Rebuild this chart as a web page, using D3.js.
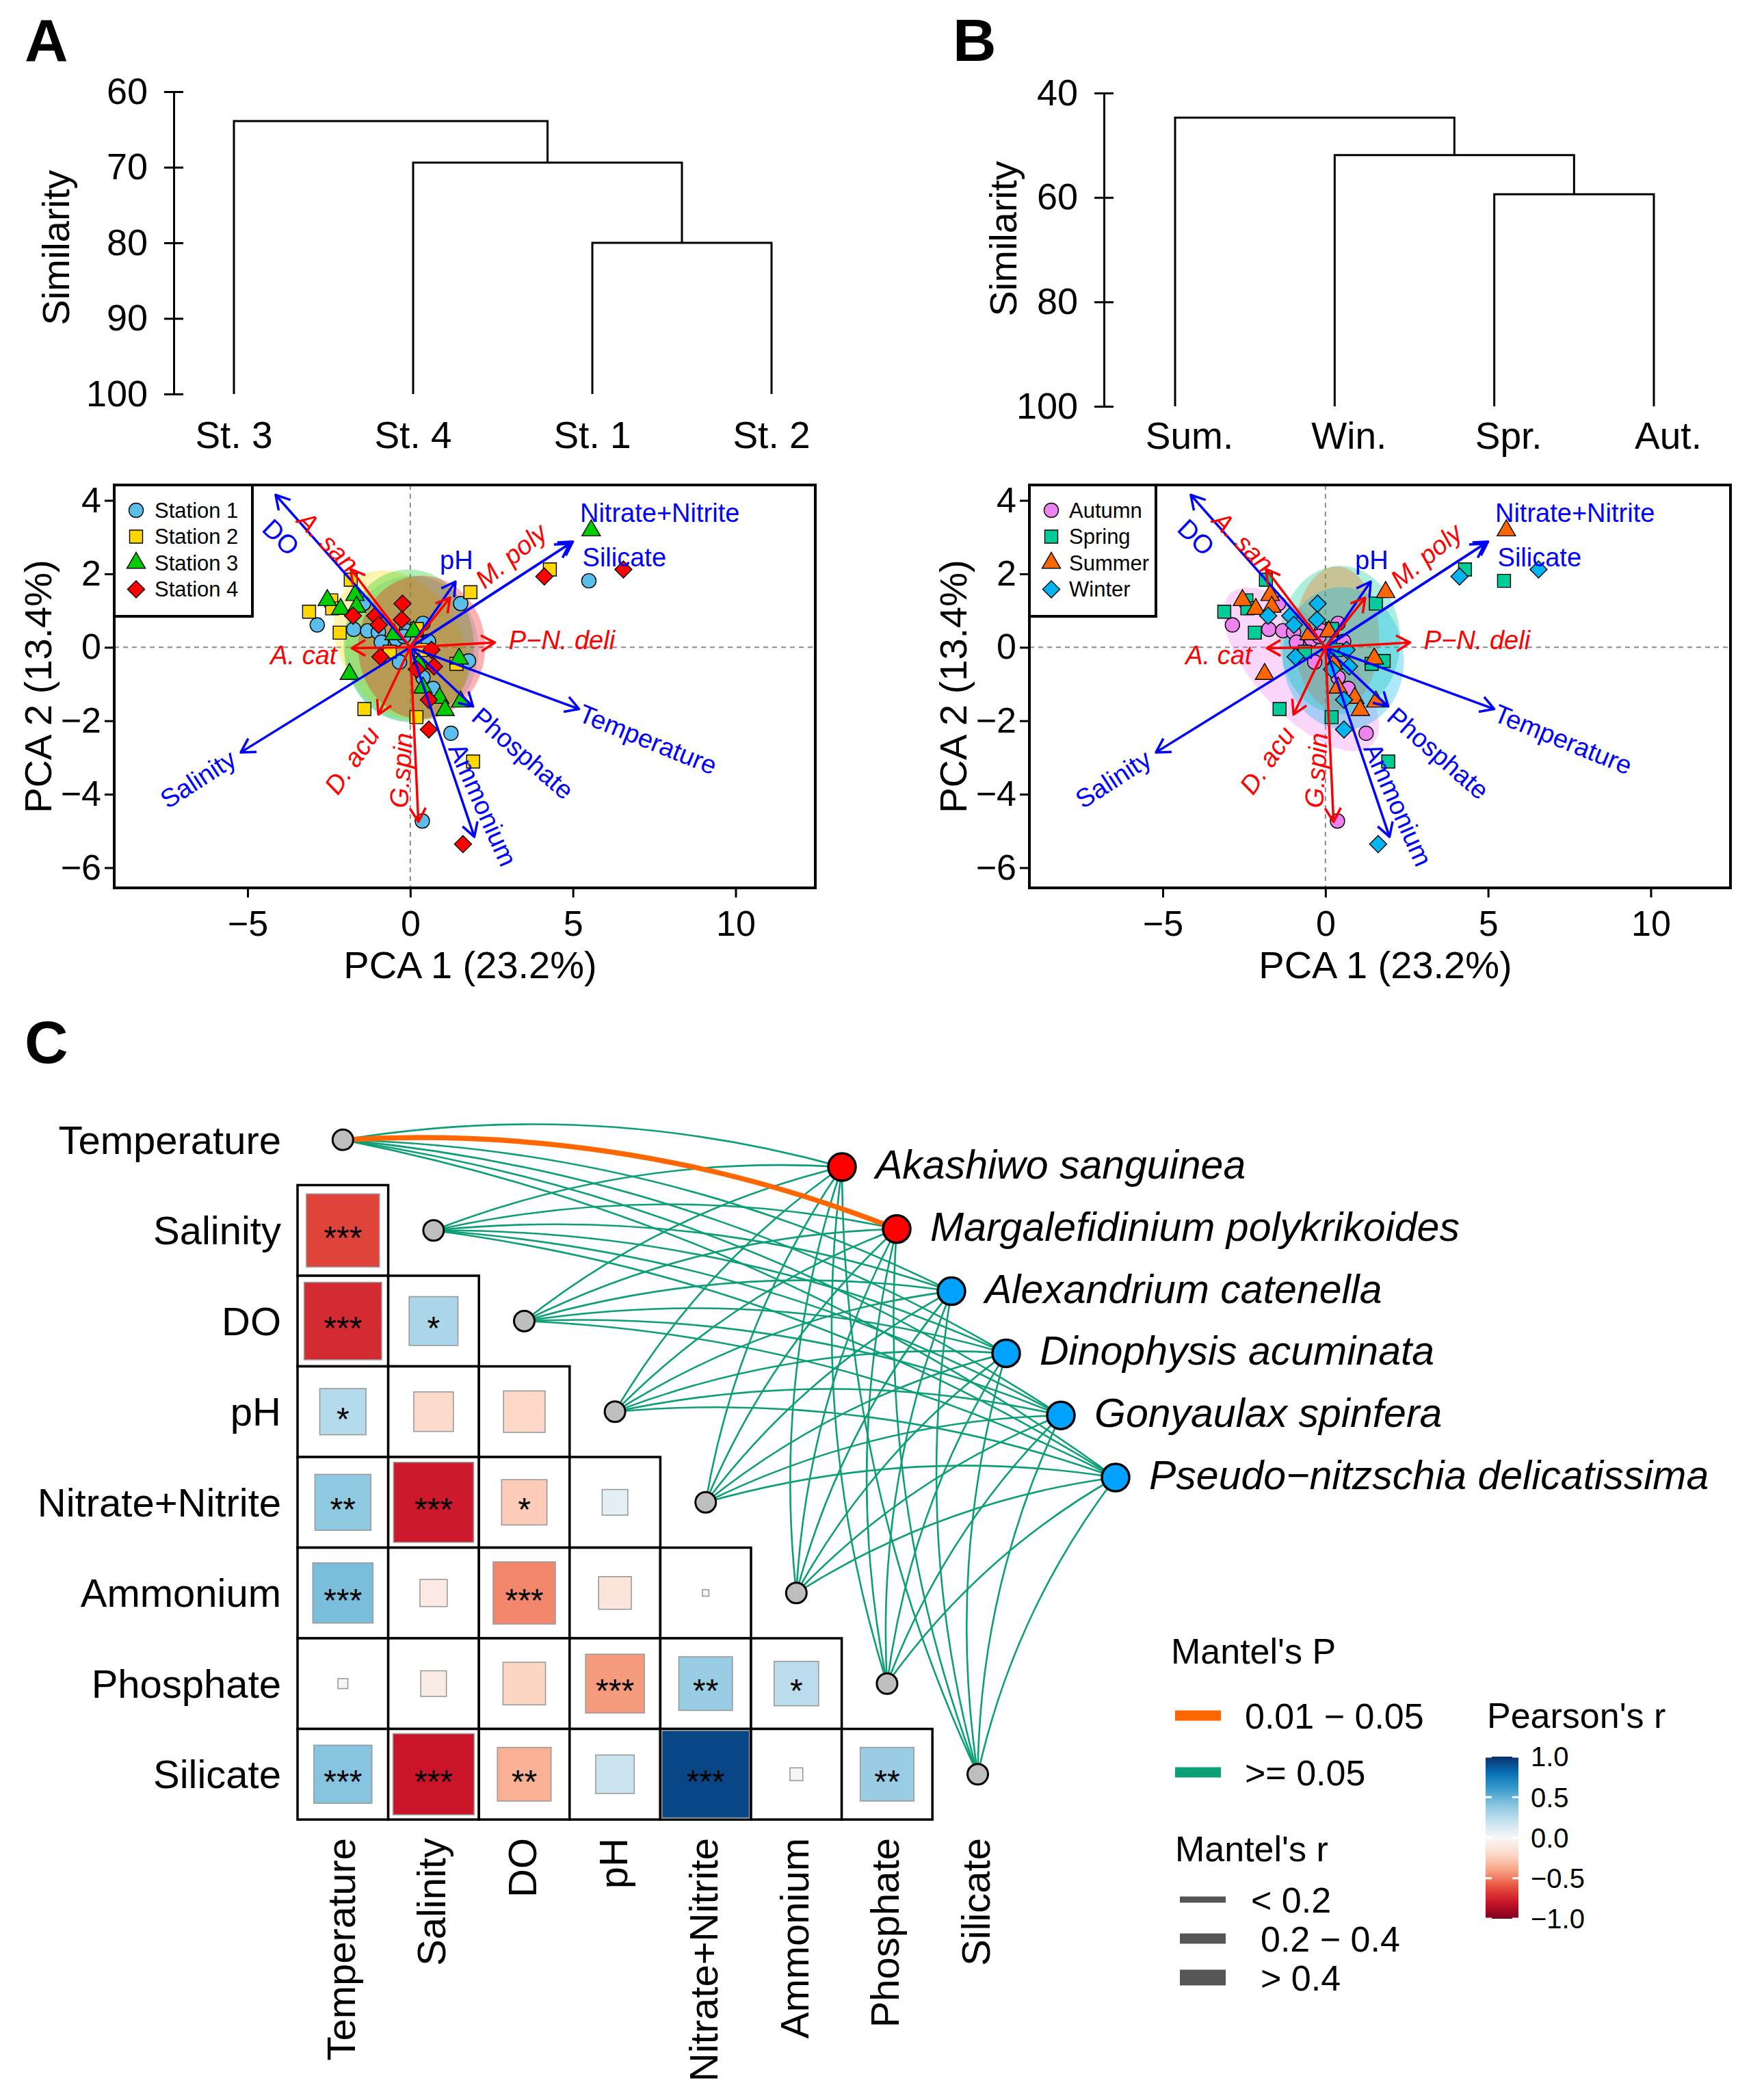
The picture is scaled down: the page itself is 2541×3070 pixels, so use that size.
<!DOCTYPE html>
<html>
<head>
<meta charset="utf-8">
<title>Dendrograms, PCA biplots and Mantel network</title>
<script src="https://cdnjs.cloudflare.com/ajax/libs/d3/7.8.5/d3.min.js"></script>
<style>
  body { margin: 0; background: #fff; }
  text { font-family: "Liberation Sans", Arial, sans-serif; }
</style>
</head>
<body>
<script>
// ---------- dendrograms ----------
const stationLeaves = ['St. 3', 'St. 4', 'St. 1', 'St. 2'];
const stationMergePairs = [['St. 1', 'St. 2'], ['St. 4', 0], ['St. 3', 1]];
const stationMergeHeights = [80.0, 69.4, 63.9];
const stationSimTicks = [60, 70, 80, 90, 100];

const seasonLeaves = ['Sum.', 'Win.', 'Spr.', 'Aut.'];
const seasonMergePairs = [['Spr.', 'Aut.'], ['Win.', 0], ['Sum.', 1]];
const seasonMergeHeights = [59.4, 51.9, 44.7];
const seasonSimTicks = [40, 60, 80, 100];

// ---------- PCA sample scores ----------
const stationNames = ['Station 1', 'Station 2', 'Station 3', 'Station 4'];
const seasonNames = ['Autumn', 'Spring', 'Summer', 'Winter'];

const samplePC1 = [
  5.49, -2.86, -1.44, -1.74, -1.31, -0.98, -0.89, -0.43, -0.12, 0.39, 0.56, 1.55, 1.79, -0.33, 0.39, 0.70, 1.25, 0.37, -0.20,
  4.29, -1.83, 1.85, -3.11, -2.43, -2.40, -2.17, -0.63, 1.42, -1.41, 0.19, 1.93, 0.33, 0.20,
  5.56, -2.55, -2.14, -1.70, -1.87, 0.10, 0.26, 1.50, 0.90, 1.07, 1.55, 0.39, -1.65, -0.50,
  4.12, 6.55, -0.24, -1.76, -1.08, -0.26, -0.92, 0.73, 0.57, 0.57, 1.62, 0.65, -0.97, 0.20
];
const samplePC2 = [
  1.81, 0.61, 1.19, 0.49, 0.45, 0.41, 0.14, 0.22, 0.45, 0.65, 0.16, 1.19, -0.37, -0.40, -0.82, -1.12, -2.34, -4.73, 0.30,
  2.12, 1.84, 1.50, 0.97, 1.28, 1.06, 0.40, -0.12, -0.45, -1.68, -1.90, -3.11, -0.07, 0.50,
  3.18, 1.28, 1.04, 1.42, -0.73, 0.43, -0.45, -0.31, -1.38, -1.71, -1.48, -1.10, 1.10, 0.35,
  1.93, 2.12, 1.19, 0.86, 0.86, 0.75, -0.26, -0.52, -1.43, -2.24, -5.36, -0.07, 0.61, -0.60
];
const sampleStation = [
  'Station 1', 'Station 1', 'Station 1', 'Station 1', 'Station 1', 'Station 1', 'Station 1', 'Station 1', 'Station 1', 'Station 1',
  'Station 1', 'Station 1', 'Station 1', 'Station 1', 'Station 1', 'Station 1', 'Station 1', 'Station 1', 'Station 1',
  'Station 2', 'Station 2', 'Station 2', 'Station 2', 'Station 2', 'Station 2', 'Station 2', 'Station 2', 'Station 2', 'Station 2',
  'Station 2', 'Station 2', 'Station 2', 'Station 2',
  'Station 3', 'Station 3', 'Station 3', 'Station 3', 'Station 3', 'Station 3', 'Station 3', 'Station 3', 'Station 3', 'Station 3',
  'Station 3', 'Station 3', 'Station 3', 'Station 3',
  'Station 4', 'Station 4', 'Station 4', 'Station 4', 'Station 4', 'Station 4', 'Station 4', 'Station 4', 'Station 4', 'Station 4',
  'Station 4', 'Station 4', 'Station 4', 'Station 4'
];
const sampleSeason = [
  'Spring', 'Autumn', 'Autumn', 'Autumn', 'Autumn', 'Autumn', 'Autumn', 'Autumn', 'Autumn', 'Autumn',
  'Autumn', 'Spring', 'Spring', 'Autumn', 'Autumn', 'Autumn', 'Autumn', 'Autumn', 'Autumn',
  'Spring', 'Spring', 'Summer', 'Spring', 'Spring', 'Spring', 'Spring', 'Spring', 'Spring', 'Spring',
  'Spring', 'Spring', 'Spring', 'Spring',
  'Summer', 'Summer', 'Summer', 'Summer', 'Summer', 'Summer', 'Summer', 'Summer', 'Summer', 'Summer',
  'Summer', 'Summer', 'Summer', 'Summer',
  'Winter', 'Winter', 'Winter', 'Winter', 'Winter', 'Winter', 'Winter', 'Winter', 'Winter', 'Winter',
  'Winter', 'Winter', 'Winter', 'Winter'
];

// 95% ellipses (centre, semi-axes, angle in data space)
const stationEllipseCX = [0.05, -0.30, -0.05, 0.35];
const stationEllipseCY = [-0.05, 0.05, 0.05, 0.00];
const stationEllipseA = [2.05, 2.30, 2.00, 1.95];
const stationEllipseB = [2.00, 1.75, 2.07, 1.95];
const stationEllipseAngle = [0, -45, 0, 0];

const seasonEllipseCX = [-0.75, 0.45, 0.35, 0.55];
const seasonEllipseCY = [-0.60, 0.20, 0.25, -0.30];
const seasonEllipseA = [3.00, 1.85, 1.30, 1.85];
const seasonEllipseB = [1.30, 2.02, 1.95, 1.95];
const seasonEllipseAngle = [-42, 0, 0, 20];

// ---------- biplot loadings ----------
const envArrowNames = ['DO', 'pH', 'Nitrate+Nitrite', 'Silicate', 'Temperature', 'Phosphate', 'Ammonium', 'Salinity'];
const envArrowPC1 = [-4.14, 1.39, 5.00, 4.90, 5.19, 1.93, 1.97, -5.21];
const envArrowPC2 = [4.15, 1.79, 2.88, 2.82, -1.68, -1.61, -5.16, -2.86];
const envLabelPC1 = [-3.97, 1.42, 7.67, 6.58, 7.31, 3.47, 2.24, -6.53];
const envLabelPC2 = [3.00, 2.38, 3.66, 2.45, -2.50, -2.88, -4.28, -3.58];
const envLabelAngle = [44, 0, 0, 0, 22, 41, 66, -33];

const sppArrowNames = ['A. san', 'M. poly', 'P\u2212N. deli', 'A. cat', 'D. acu', 'G.spin'];
const sppArrowPC1 = [-1.83, 1.22, 2.60, -1.80, -0.98, 0.25];
const sppArrowPC2 = [2.13, 1.35, 0.13, -0.02, -1.83, -4.75];
const sppLabelPC1 = [-2.52, 3.09, 4.66, -3.28, -1.80, -0.29];
const sppLabelPC2 = [2.88, 2.50, 0.20, -0.21, -3.07, -3.35];
const sppLabelAngle = [45, -40, 0, 0, -55, -86];

// ---------- Mantel / Pearson ----------
const envVars = ['Temperature', 'Salinity', 'DO', 'pH', 'Nitrate+Nitrite', 'Ammonium', 'Phosphate', 'Silicate'];
const speciesNames = ['Akashiwo sanguinea', 'Margalefidinium polykrikoides', 'Alexandrium catenella',
  'Dinophysis acuminata', 'Gonyaulax spinfera', 'Pseudo\u2212nitzschia delicatissima'];
const speciesGroup = [0, 0, 1, 1, 1, 1];

const mantelPBins = ['0.01 \u2212 0.05', '>= 0.05'];
const mantelRBins = ['< 0.2', '0.2 \u2212 0.4', '> 0.4'];
// rows = species, columns = envVars, values = index into the bins above
const mantelPClass = [
  [1, 1, 1, 1, 1, 1, 1, 1],
  [0, 1, 1, 1, 1, 1, 1, 1],
  [1, 1, 1, 1, 1, 1, 1, 1],
  [1, 1, 1, 1, 1, 1, 1, 1],
  [1, 1, 1, 1, 1, 1, 1, 1],
  [1, 1, 1, 1, 1, 1, 1, 1]
];
const mantelRClass = [
  [0, 0, 0, 0, 0, 0, 0, 0],
  [1, 0, 0, 0, 0, 0, 0, 0],
  [0, 0, 0, 0, 0, 0, 0, 0],
  [0, 0, 0, 0, 0, 0, 0, 0],
  [0, 0, 0, 0, 0, 0, 0, 0],
  [0, 0, 0, 0, 0, 0, 0, 0]
];

// lower triangle, row i holds r with envVars[0..i-1]
const pearsonR = [
  [],
  [-0.65],
  [-0.73, 0.29],
  [0.26, -0.19, -0.21],
  [0.38, -0.78, -0.25, 0.08],
  [0.44, -0.09, -0.47, -0.13, -0.005],
  [0.012, -0.08, -0.22, -0.42, 0.35, 0.24],
  [0.41, -0.80, -0.35, 0.18, 0.93, -0.02, 0.35]
];
const pearsonStars = [
  [],
  ['***'],
  ['***', '*'],
  ['*', '', ''],
  ['**', '***', '*', ''],
  ['***', '', '***', '', ''],
  ['', '', '', '***', '**', '*'],
  ['***', '***', '**', '', '***', '', '**']
];
const pearsonLegendTicks = [1.0, 0.5, 0.0, -0.5, -1.0];

// ---------- canvas ----------
const svg = d3.select('body').append('svg')
  .attr('width', 2541)
  .attr('height', 3070);
svg.append('rect').attr('width', 2541).attr('height', 3070).attr('fill', '#fff');

[['A', 36, 89], ['B', 1393, 89], ['C', 36, 1554]].forEach(d => {
  svg.append('text').attr('x', d[1]).attr('y', d[2]).text(d[0])
    .attr('font-size', 88).attr('font-weight', 'bold');
});

class Dendrogram {

  /**
   * simple 4-leaf dendrogram with a similarity axis
   */
  constructor(_config, _leaves, _pairs, _heights, _ticks) {
    this.config = _config;
    this.leaves = _leaves;
    this.pairs = _pairs;
    this.heights = _heights;
    this.ticks = _ticks;
    this.initVis();
  }

  initVis() {
    let vis = this;
    const c = vis.config;

    vis.g = svg.append('g');
    vis.xScale = d3.scalePoint().domain(vis.leaves).range([c.leafLeft, c.leafRight]);
    vis.yScale = d3.scaleLinear().domain([vis.ticks[0], 100]).range([c.top, c.bottom]);

    vis.yAxis = d3.axisLeft(vis.yScale)
      .tickValues(vis.ticks)
      .tickSizeInner(14)
      .tickSizeOuter(0)
      .tickPadding(24);

    vis.yAxisG = vis.g.append('g').attr('transform', `translate(${c.axisX},0)`);

    vis.g.append('text')
      .attr('transform', `translate(${c.titleX},${c.titleY}) rotate(-90)`)
      .attr('text-anchor', 'middle')
      .attr('dy', '0.36em')
      .attr('font-size', 56)
      .text('Similarity');

    vis.renderVis();
  }

  renderVis() {
    let vis = this;
    const c = vis.config;

    vis.yAxisG.call(vis.yAxis);
    vis.yAxisG.select('.domain').attr('stroke-width', 3);
    vis.yAxisG.selectAll('.tick line').attr('x1', 14).attr('stroke-width', 3);
    vis.yAxisG.selectAll('.tick text').attr('font-size', 54).attr('fill', '#000');

    const merged = [];
    const pos = id => typeof id === 'number' ? merged[id] : {x: vis.xScale(id), y: vis.yScale(100)};
    vis.pairs.forEach((p, i) => {
      const a = pos(p[0]);
      const b = pos(p[1]);
      const y = vis.yScale(vis.heights[i]);
      merged.push({x: (a.x + b.x) / 2, y: y});
      vis.g.append('path')
        .attr('d', `M${a.x},${a.y}V${y}H${b.x}V${b.y}`)
        .attr('fill', 'none')
        .attr('stroke', '#000')
        .attr('stroke-width', 3);
    });

    vis.g.selectAll('.leaf-label')
      .data(vis.leaves)
      .enter()
      .append('text')
      .attr('class', 'leaf-label')
      .attr('x', d => vis.xScale(d) + c.labelDx)
      .attr('y', c.labelY)
      .attr('text-anchor', 'middle')
      .attr('font-size', 55)
      .text(d => d);
  }
}

class PcaBiplot {

  /**
   * PCA biplot: grouped sample scores, ellipses and loading arrows
   */
  constructor(_config, _groupOf, _ellipses) {
    this.config = _config;
    this.groupOf = _groupOf;
    this.ellipses = _ellipses;
    this.initVis();
  }

  initVis() {
    let vis = this;
    const c = vis.config;

    vis.g = svg.append('g');
    vis.xScale = d3.scaleLinear().domain([-9.1, 12.45]).range([c.left, c.left + c.width]);
    vis.yScale = d3.scaleLinear().domain([-6.55, 4.42]).range([c.top + c.height, c.top]);
    vis.colorScale = d3.scaleOrdinal().domain(c.groups).range(c.colors);
    vis.shapeScale = d3.scaleOrdinal().domain(c.groups).range(['circle', 'square', 'triangle', 'diamond']);

    vis.xAxis = d3.axisBottom(vis.xScale).tickValues([-5, 0, 5, 10]).tickSize(14).tickPadding(19);
    vis.yAxis = d3.axisLeft(vis.yScale).tickValues([-6, -4, -2, 0, 2, 4]).tickSize(14).tickPadding(5);

    vis.xAxisG = vis.g.append('g').attr('transform', `translate(0,${c.top + c.height})`);
    vis.yAxisG = vis.g.append('g').attr('transform', `translate(${c.left},0)`);

    vis.g.append('text')
      .attr('x', c.left + c.width / 2 + 8)
      .attr('y', c.top + c.height + 132)
      .attr('text-anchor', 'middle')
      .attr('font-size', 56)
      .text('PCA 1 (23.2%)');
    vis.g.append('text')
      .attr('transform', `translate(${c.left - 112},${c.top + c.height / 2}) rotate(-90)`)
      .attr('text-anchor', 'middle')
      .attr('dy', '0.36em')
      .attr('font-size', 56)
      .text('PCA 2 (13.4%)');

    vis.updateVis();
  }

  updateVis() {
    let vis = this;
    vis.samples = samplePC1.map((x, i) => ({x: x, y: samplePC2[i], group: vis.groupOf[i]}));
    vis.renderVis();
  }

  symbolPath(shape) {
    if (shape === 'circle') return d3.symbol(d3.symbolCircle, 346)();
    if (shape === 'square') return d3.symbol(d3.symbolSquare, 361)();
    if (shape === 'triangle') return d3.symbol(d3.symbolTriangle, 316)();
    return d3.symbol(d3.symbolSquare, 313)();
  }

  renderVis() {
    let vis = this;
    const c = vis.config;

    // zero lines
    vis.g.append('line')
      .attr('x1', vis.xScale(0)).attr('x2', vis.xScale(0))
      .attr('y1', c.top).attr('y2', c.top + c.height)
      .attr('stroke', '#8a8a8a').attr('stroke-width', 2).attr('stroke-dasharray', '7,6');
    vis.g.append('line')
      .attr('x1', c.left).attr('x2', c.left + c.width)
      .attr('y1', vis.yScale(0)).attr('y2', vis.yScale(0))
      .attr('stroke', '#8a8a8a').attr('stroke-width', 2).attr('stroke-dasharray', '7,6');

    // ellipses
    const line = d3.line().x(p => vis.xScale(p[0])).y(p => vis.yScale(p[1])).curve(d3.curveLinearClosed);
    const e = vis.ellipses;
    c.groups.forEach((grp, i) => {
      const rot = e.angle[i] * Math.PI / 180;
      const pts = d3.range(0, 360, 3).map(t => {
        const a = t * Math.PI / 180;
        const ex = e.a[i] * Math.cos(a);
        const ey = e.b[i] * Math.sin(a);
        return [e.cx[i] + ex * Math.cos(rot) - ey * Math.sin(rot), e.cy[i] + ex * Math.sin(rot) + ey * Math.cos(rot)];
      });
      vis.g.append('path')
        .attr('d', line(pts))
        .attr('fill', vis.colorScale(grp))
        .attr('fill-opacity', c.ellipseOpacity)
        .attr('stroke', 'none');
    });

    // samples
    vis.g.selectAll('.pt')
      .data(vis.samples)
      .enter()
      .append('path')
      .attr('class', 'pt')
      .attr('d', d => vis.symbolPath(vis.shapeScale(d.group)))
      .attr('transform', d => `translate(${vis.xScale(d.x)},${vis.yScale(d.y)})` +
        (vis.shapeScale(d.group) === 'diamond' ? ' rotate(45)' : ''))
      .attr('fill', d => vis.colorScale(d.group))
      .attr('stroke', '#000')
      .attr('stroke-width', 1.4);

    vis.drawArrows(envArrowNames, envArrowPC1, envArrowPC2, envLabelPC1, envLabelPC2, envLabelAngle, '#0000FF', false);
    vis.drawArrows(sppArrowNames, sppArrowPC1, sppArrowPC2, sppLabelPC1, sppLabelPC2, sppLabelAngle, '#FF0000', true);

    // box and axes
    vis.g.append('rect')
      .attr('x', c.left).attr('y', c.top)
      .attr('width', c.width).attr('height', c.height)
      .attr('fill', 'none').attr('stroke', '#000').attr('stroke-width', 4);

    vis.xAxisG.call(vis.xAxis);
    vis.yAxisG.call(vis.yAxis);
    [vis.xAxisG, vis.yAxisG].forEach(ag => {
      ag.select('.domain').remove();
      ag.selectAll('.tick line').attr('stroke-width', 3);
      ag.selectAll('.tick text').attr('font-size', 52).attr('fill', '#000');
    });

    // legend
    const lg = vis.g.append('g');
    lg.append('rect')
      .attr('x', c.left).attr('y', c.top)
      .attr('width', c.legendWidth).attr('height', 192)
      .attr('fill', '#fff').attr('stroke', '#000').attr('stroke-width', 4);
    c.groups.forEach((grp, i) => {
      const y = c.top + 37 + i * 38.5;
      const shape = vis.shapeScale(grp);
      lg.append('path')
        .attr('d', vis.symbolPath(shape))
        .attr('transform', `translate(${c.left + 32},${y})` + (shape === 'diamond' ? ' rotate(45)' : ''))
        .attr('fill', vis.colorScale(grp))
        .attr('stroke', '#000')
        .attr('stroke-width', 1.4);
      lg.append('text')
        .attr('x', c.left + c.legendTextDx)
        .attr('y', y)
        .attr('dy', '0.35em')
        .attr('font-size', 31)
        .text(grp);
    });
  }

  drawArrows(names, pc1, pc2, labX, labY, labAngle, color, italic) {
    let vis = this;
    const ox = vis.xScale(0);
    const oy = vis.yScale(0);
    const g = vis.g.append('g');
    names.forEach((name, i) => {
      const tx = vis.xScale(pc1[i]);
      const ty = vis.yScale(pc2[i]);
      const ang = Math.atan2(ty - oy, tx - ox);
      const head = [-1, 1].map(s => [tx - 23 * Math.cos(ang + s * Math.PI / 6), ty - 23 * Math.sin(ang + s * Math.PI / 6)]);
      g.append('line')
        .attr('x1', ox).attr('y1', oy).attr('x2', tx).attr('y2', ty)
        .attr('stroke', color).attr('stroke-width', 3.5);
      g.append('path')
        .attr('d', `M${head[0]}L${tx},${ty}L${head[1]}`)
        .attr('fill', 'none').attr('stroke', color).attr('stroke-width', 3.5)
        .attr('stroke-linejoin', 'round');
      g.append('text')
        .attr('transform', `translate(${vis.xScale(labX[i])},${vis.yScale(labY[i])}) rotate(${labAngle[i]})`)
        .attr('text-anchor', 'middle')
        .attr('dy', '0.36em')
        .attr('font-size', 38)
        .attr('font-style', italic ? 'italic' : 'normal')
        .attr('fill', color)
        .text(name);
    });
  }
}

class MantelNetwork {

  /**
   * Pearson correlation triangle with Mantel links to species
   */
  constructor(_config) {
    this.config = _config;
    this.initVis();
  }

  initVis() {
    let vis = this;
    const c = vis.config;

    vis.g = svg.append('g');
    vis.xBand = d3.scaleBand().domain(envVars).range([c.left, c.left + 8 * c.cell]);
    vis.yBand = d3.scaleBand().domain(envVars).range([c.top, c.top + 8 * c.cellH]);
    vis.spX = d3.scalePoint().domain(speciesNames).range([1231, 1631]);
    vis.spY = d3.scalePoint().domain(speciesNames).range([1706, 2160]);

    vis.fillScale = d3.scaleLinear()
      .domain([-1, -0.8, -0.6, -0.4, -0.2, 0, 0.2, 0.4, 0.6, 0.8, 1])
      .range(['#7F0020', '#C9142A', '#E8533F', '#F8A384', '#FDDACA', '#F7F7F7',
        '#C6E2EF', '#8AC6E0', '#3A9CCD', '#0870B5', '#0A2F6B']);
    vis.pColor = d3.scaleOrdinal().domain([0, 1]).range(['#FF6600', '#0C9E76']);
    vis.rWidth = d3.scaleOrdinal().domain([0, 1, 2]).range([2.6, 7.5, 11]);
    vis.speciesColor = d3.scaleOrdinal().domain([0, 1]).range(['#FF0000', '#00A2FF']);

    vis.updateVis();
  }

  updateVis() {
    let vis = this;
    vis.cells = [];
    pearsonR.forEach((row, ri) => row.forEach((r, ci) => {
      vis.cells.push({row: envVars[ri], col: envVars[ci], r: r, stars: pearsonStars[ri][ci]});
    }));
    vis.links = [];
    speciesNames.forEach((sp, si) => envVars.forEach((ev, ei) => {
      vis.links.push({sp: sp, env: ev, p: mantelPClass[si][ei], r: mantelRClass[si][ei]});
    }));
    vis.links.sort((a, b) => b.p - a.p);
    vis.renderVis();
  }

  envX(v) { return this.xBand(v) + this.xBand.bandwidth() / 2; }
  envY(v) { return this.yBand(v) + this.yBand.bandwidth() / 2; }

  renderVis() {
    let vis = this;
    const c = vis.config;
    const bw = vis.xBand.bandwidth();
    const bh = vis.yBand.bandwidth();

    // cells
    const cellG = vis.g.selectAll('.cell')
      .data(vis.cells)
      .enter()
      .append('g')
      .attr('class', 'cell');
    cellG.append('rect')
      .attr('x', d => vis.xBand(d.col))
      .attr('y', d => vis.yBand(d.row))
      .attr('width', bw).attr('height', bh)
      .attr('fill', '#fff').attr('stroke', '#000').attr('stroke-width', 3.5);
    cellG.append('rect')
      .attr('x', d => vis.envX(d.col) - bw * Math.sqrt(Math.abs(d.r)) / 2)
      .attr('y', d => vis.envY(d.row) - bh * Math.sqrt(Math.abs(d.r)) / 2)
      .attr('width', d => bw * Math.sqrt(Math.abs(d.r)))
      .attr('height', d => bh * Math.sqrt(Math.abs(d.r)))
      .attr('fill', d => vis.fillScale(d.r))
      .attr('stroke', '#9a9a9a').attr('stroke-width', 1.6);
    cellG.append('text')
      .attr('x', d => vis.envX(d.col))
      .attr('y', d => vis.envY(d.row) + 27)
      .attr('text-anchor', 'middle')
      .attr('font-size', 48)
      .text(d => d.stars);

    // links
    vis.g.selectAll('.link')
      .data(vis.links)
      .enter()
      .append('path')
      .attr('class', 'link')
      .attr('d', d => {
        const x1 = vis.envX(d.env), y1 = vis.envY(d.env);
        const x2 = vis.spX(d.sp), y2 = vis.spY(d.sp);
        const dx = x2 - x1, dy = y2 - y1;
        const cx = (x1 + x2) / 2 + dy * 0.11;
        const cy = (y1 + y2) / 2 - dx * 0.11;
        return `M${x1},${y1}Q${cx},${cy} ${x2},${y2}`;
      })
      .attr('fill', 'none')
      .attr('stroke', d => vis.pColor(d.p))
      .attr('stroke-width', d => vis.rWidth(d.r));

    // env nodes
    vis.g.selectAll('.env-node')
      .data(envVars)
      .enter()
      .append('circle')
      .attr('class', 'env-node')
      .attr('cx', d => vis.envX(d))
      .attr('cy', d => vis.envY(d))
      .attr('r', 15)
      .attr('fill', '#BEBEBE').attr('stroke', '#000').attr('stroke-width', 3);

    // species nodes and labels
    vis.g.selectAll('.sp-node')
      .data(speciesNames)
      .enter()
      .append('circle')
      .attr('class', 'sp-node')
      .attr('cx', d => vis.spX(d))
      .attr('cy', d => vis.spY(d))
      .attr('r', 20)
      .attr('fill', (d, i) => vis.speciesColor(speciesGroup[i]))
      .attr('stroke', '#000').attr('stroke-width', 3.5);
    vis.g.selectAll('.sp-label')
      .data(speciesNames)
      .enter()
      .append('text')
      .attr('class', 'sp-label')
      .attr('x', d => vis.spX(d) + 49)
      .attr('y', d => vis.spY(d) + 17)
      .attr('font-size', 59)
      .attr('font-style', 'italic')
      .text(d => d);

    // row / column labels
    vis.g.selectAll('.row-label')
      .data(envVars)
      .enter()
      .append('text')
      .attr('x', c.left - 24)
      .attr('y', d => vis.envY(d))
      .attr('dy', '0.35em')
      .attr('text-anchor', 'end')
      .attr('font-size', 58)
      .text(d => d);
    vis.g.selectAll('.col-label')
      .data(envVars)
      .enter()
      .append('text')
      .attr('transform', d => `translate(${vis.envX(d)},${c.top + 8 * c.cellH + 27}) rotate(-90)`)
      .attr('dy', '0.3em')
      .attr('text-anchor', 'end')
      .attr('font-size', 58)
      .text(d => d);

    vis.renderLegend();
  }

  renderLegend() {
    let vis = this;
    const lg = vis.g.append('g');

    lg.append('text').attr('x', 1712).attr('y', 2432).attr('font-size', 52).text("Mantel's P");
    mantelPBins.forEach((lab, i) => {
      const y = 2508 + i * 83;
      lg.append('line').attr('x1', 1718).attr('x2', 1785).attr('y1', y).attr('y2', y)
        .attr('stroke', vis.pColor(i)).attr('stroke-width', 15);
      lg.append('text').attr('x', 1820).attr('y', y).attr('dy', '0.36em').attr('font-size', 52).text(lab);
    });

    lg.append('text').attr('x', 1718).attr('y', 2721).attr('font-size', 52).text("Mantel's r");
    const keyW = [9, 15, 23];
    const keyX = [1829, 1843, 1843];
    mantelRBins.forEach((lab, i) => {
      const y = 2777 + i * 57;
      lg.append('line').attr('x1', 1725).attr('x2', 1792).attr('y1', y).attr('y2', y)
        .attr('stroke', '#555').attr('stroke-width', keyW[i]);
      lg.append('text').attr('x', keyX[i]).attr('y', y).attr('dy', '0.36em').attr('font-size', 52).text(lab);
    });

    lg.append('text').attr('x', 2174).attr('y', 2526).attr('font-size', 52).text("Pearson's r");
    const cbY = d3.scaleLinear().domain([-1, 1]).range([2805, 2568]);
    const grad = svg.append('defs').append('linearGradient')
      .attr('id', 'pearson-grad').attr('x1', 0).attr('x2', 0).attr('y1', 0).attr('y2', 1);
    d3.range(1, -1.001, -0.05).forEach(v => {
      grad.append('stop').attr('offset', (1 - v) / 2).attr('stop-color', vis.fillScale(v));
    });
    lg.append('rect').attr('x', 2172).attr('y', 2568).attr('width', 48).attr('height', 237)
      .attr('fill', 'url(#pearson-grad)');
    pearsonLegendTicks.forEach(v => {
      const y = cbY(v);
      lg.append('line').attr('x1', 2172).attr('x2', 2181).attr('y1', y).attr('y2', y)
        .attr('stroke', '#fff').attr('stroke-width', 3);
      lg.append('line').attr('x1', 2211).attr('x2', 2220).attr('y1', y).attr('y2', y)
        .attr('stroke', '#fff').attr('stroke-width', 3);
      lg.append('text').attr('x', 2238).attr('y', y).attr('dy', '0.36em').attr('font-size', 40)
        .text(d3.format('.1f')(v));
    });
  }
}

new Dendrogram({axisX: 254, top: 134, bottom: 576, leafLeft: 342, leafRight: 1128, labelY: 655, labelDx: 0,
  titleX: 81, titleY: 362},
  stationLeaves, stationMergePairs, stationMergeHeights, stationSimTicks);
new Dendrogram({axisX: 1614, top: 136, bottom: 594, leafLeft: 1718, leafRight: 2418, labelY: 656, labelDx: 21,
  titleX: 1466, titleY: 349},
  seasonLeaves, seasonMergePairs, seasonMergeHeights, seasonSimTicks);

new PcaBiplot({left: 167, top: 709, width: 1025, height: 589, groups: stationNames,
  colors: ['#5BBDEA', '#FFD700', '#00CC00', '#FF0000'], legendWidth: 202, legendTextDx: 59, ellipseOpacity: 0.3},
  sampleStation,
  {cx: stationEllipseCX, cy: stationEllipseCY, a: stationEllipseA, b: stationEllipseB, angle: stationEllipseAngle});
new PcaBiplot({left: 1505, top: 709, width: 1025, height: 589, groups: seasonNames,
  colors: ['#EE82EE', '#00CC99', '#FF6600', '#00B4F0'], legendWidth: 185, legendTextDx: 58, ellipseOpacity: 0.32},
  sampleSeason,
  {cx: seasonEllipseCX, cy: seasonEllipseCY, a: seasonEllipseA, b: seasonEllipseB, angle: seasonEllipseAngle});

new MantelNetwork({left: 435, top: 1600, cell: 132.6, cellH: 132.5});
</script>
</body>
</html>
